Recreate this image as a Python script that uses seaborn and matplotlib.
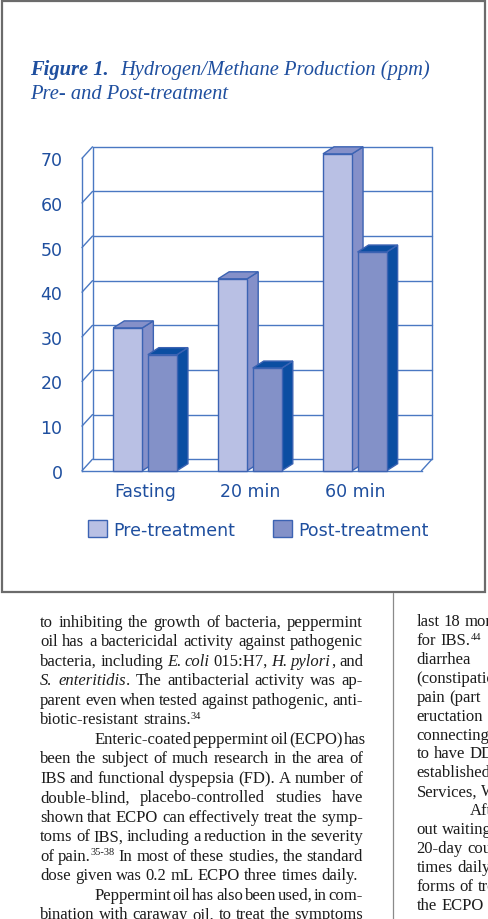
import re
import pandas as pd
import matplotlib
matplotlib.use("Agg")
import matplotlib.pyplot as plt
import seaborn as sns
from matplotlib.patches import Polygon, Rectangle
from matplotlib.lines import Line2D

# Daten aus dem Diagramm (ppm)
times = ["Fasting", "20 min", "60 min"]
series = ["Pre-treatment", "Post-treatment"]
pre_treatment = [32, 43, 71]
post_treatment = [26, 23, 49]
y_ticks = [0, 10, 20, 30, 40, 50, 60, 70]

# Fliesstext unter der Abbildung (_kursiv_, ^hochgestellt)
left_lines = [
    "to inhibiting the growth of bacteria, peppermint",
    "oil has a bactericidal activity against pathogenic",
    "bacteria, including _E._ _coli_ 015:H7, _H._ _pylori_, and",
    "_S._ _enteritidis_. The antibacterial activity was ap-",
    "parent even when tested against pathogenic, anti-",
    "biotic-resistant strains.^34",
    "Enteric-coated peppermint oil (ECPO) has",
    "been the subject of much research in the area of",
    "IBS and functional dyspepsia (FD). A number of",
    "double-blind, placebo-controlled studies have",
    "shown that ECPO can effectively treat the symp-",
    "toms of IBS, including a reduction in the severity",
    "of pain.^35-38 In most of these studies, the standard",
    "dose given was 0.2 mL ECPO three times daily.",
    "Peppermint oil has also been used, in com-",
    "bination with caraway oil, to treat the symptoms",
]
left_indent = [6, 14]
left_ragged = [5, 13]
right_lines = [
    "last 18 months", "for IBS.^44", "diarrhea", "(constipation", "pain (part",
    "eructation", "connecting", "to have DD", "established", "Services, W",
    "After", "out waiting", "20-day course", "times daily", "forms of treat",
    "the ECPO",
]
right_indent = [10]

blue = "#1f4f9f"
edge = "#3c63b3"
wall = "#4a78c2"
pre_front, pre_side = "#b9c0e4", "#8590c9"
post_front, post_side = "#8391c8", "#0b4ea2"

df = pd.DataFrame({
    "time": times * 2,
    "ppm": pre_treatment + post_treatment,
    "series": [series[0]] * 3 + [series[1]] * 3,
})

sns.set_style("white")
plt.rcParams["font.family"] = ["DejaVu Sans"]

W, H = 488, 920
fig = plt.figure(figsize=(W / 100, H / 100), dpi=100)
fig.patch.set_facecolor("white")


def fx(px):
    return px / W


def fy(py):
    return 1 - py / H


# Rahmen der Abbildung
fig.add_artist(Rectangle((fx(2), fy(593)), fx(485) - fx(2), fy(2) - fy(593),
                         transform=fig.transFigure, fill=False,
                         edgecolor="#6b6b6b", linewidth=1.6))
fig.add_artist(Line2D([fx(392.5), fx(392.5)], [fy(594), 0],
                      transform=fig.transFigure, color="#8a8a8a", linewidth=0.9))

ax = fig.add_axes([fx(82), fy(471.7), fx(421.5) - fx(82), fy(159.3) - fy(471.7)])
sns.barplot(data=df, x="time", y="ppm", hue="series",
            palette=[pre_front, post_front], saturation=1,
            width=0.66, gap=0.16, edgecolor=edge, linewidth=1, ax=ax)
ax.set_xlim(-0.602, 2.636)
ax.set_ylim(0, 70)

# Pixel je Dateneinheit -> Tiefenversatz fuer den 3D-Look
px_x = ax.bbox.width / (ax.get_xlim()[1] - ax.get_xlim()[0])
px_y = ax.bbox.height / (ax.get_ylim()[1] - ax.get_ylim()[0])
dxw, dyw = 10.5 / px_x, 11.5 / px_y
dxb, dyb = 11 / px_x, 7 / px_y

x0, x1 = ax.get_xlim()
for t in y_ticks:
    ax.plot([x0 + dxw, x1 + dxw], [t + dyw, t + dyw], color=wall, lw=1, clip_on=False, zorder=1)
    ax.plot([x0, x0 + dxw], [t, t + dyw], color=wall, lw=1, clip_on=False, zorder=1)
ax.plot([x0 + dxw, x0 + dxw], [dyw, 70 + dyw], color=wall, lw=1, clip_on=False, zorder=1)
ax.plot([x1 + dxw, x1 + dxw], [dyw, 70 + dyw], color=wall, lw=1, clip_on=False, zorder=1)
ax.plot([x1, x1 + dxw], [0, dyw], color=wall, lw=1, clip_on=False, zorder=1)

sides = [pre_side, post_side]
for k, cont in enumerate(ax.containers):
    for bar in cont:
        x, w, h = bar.get_x(), bar.get_width(), bar.get_height()
        z = 3 + k
        ax.add_patch(Polygon([(x + w, 0), (x + w + dxb, dyb), (x + w + dxb, h + dyb), (x + w, h)],
                             facecolor=sides[k], edgecolor=edge, lw=1, zorder=z, clip_on=False))
        ax.add_patch(Polygon([(x, h), (x + dxb, h + dyb), (x + w + dxb, h + dyb), (x + w, h)],
                             facecolor=sides[k], edgecolor=edge, lw=1, zorder=z, clip_on=False))
        bar.set_zorder(z + 0.5)
        bar.set_clip_on(False)

for s in ["top", "right"]:
    ax.spines[s].set_visible(False)
for s in ["left", "bottom"]:
    ax.spines[s].set_color(wall)
    ax.spines[s].set_linewidth(1)
ax.set_yticks(y_ticks)
ax.tick_params(axis="y", length=10.5, width=1, color=wall, labelcolor=blue, labelsize=12.5, pad=3.5)
ax.tick_params(axis="x", length=0, pad=8, labelcolor=blue, labelsize=12.5)
ax.set_xlabel("")
ax.set_ylabel("")
ax.set_facecolor("none")

ax.legend(loc="center", bbox_to_anchor=(fx(258.5), fy(530.5)), bbox_transform=fig.transFigure,
          ncol=2, frameon=False, fontsize=12.5, handlelength=1.1, handleheight=1.1,
          columnspacing=2.2, handletextpad=0.35, labelcolor=blue)

renderer = fig.canvas.get_renderer()

# Titel
title_kw = dict(family="Liberation Serif", style="italic", size=14.8, color=blue, va="baseline")
t1 = fig.text(fx(30), fy(75), "Figure 1.", weight="bold", **title_kw)
bb = t1.get_window_extent(renderer)
fig.text(fx(bb.x1 + 12), fy(75), "Hydrogen/Methane Production (ppm)", **title_kw)
fig.text(fx(30), fy(99.3), "Pre- and Post-treatment", **title_kw)

body = dict(family="Liberation Serif", color="#1c1c1c")
size = 12.0


def parse(word):
    runs = []
    for m in re.finditer(r"_([^_]*)_|\^(\S+)|([^_^]+)", word):
        if m.group(1) is not None:
            runs.append((m.group(1), "italic"))
        elif m.group(2) is not None:
            runs.append((m.group(2), "sup"))
        else:
            runs.append((m.group(3), "normal"))
    return runs


def width_of(s, **kw):
    t = fig.text(0, 0, s, **kw)
    w = t.get_window_extent(renderer).width
    t.remove()
    return w


space = width_of("a a", size=size, **body) - width_of("aa", size=size, **body)


def put_line(line, yc, xa, xb, justify):
    base = yc + 4.5
    words = [parse(w) for w in line.split()]
    placed = []
    total = 0
    for runs in words:
        arts = []
        for txt, st in runs:
            kw = dict(body)
            if st == "italic":
                kw.update(size=size, style="italic")
                dy = 0
            elif st == "sup":
                kw.update(size=size * 0.62)
                dy = -5.5
            else:
                kw.update(size=size)
                dy = 0
            t = fig.text(0, 0, txt, va="baseline", **kw)
            arts.append((t, t.get_window_extent(renderer).width, dy))
        ww = sum(a[1] for a in arts)
        placed.append((arts, ww))
        total += ww
    gap = space
    if justify and len(words) > 1:
        gap = max((xb - xa - total) / (len(words) - 1), 0.35 * space)
    x = xa
    for arts, ww in placed:
        for t, w, dy in arts:
            t.set_position((fx(x), fy(base + dy)))
            x += w
        x += gap


for i, line in enumerate(left_lines):
    xa = 94.3 if i in left_indent else 40
    put_line(line, 622.5 + i * 19.5, xa, 363, i not in left_ragged)

for i, line in enumerate(right_lines):
    xa = 470 if i in right_indent else 416.7
    put_line(line, 621.7 + i * 18.9, xa, 740, False)

fig.savefig("out.png", dpi=100)
